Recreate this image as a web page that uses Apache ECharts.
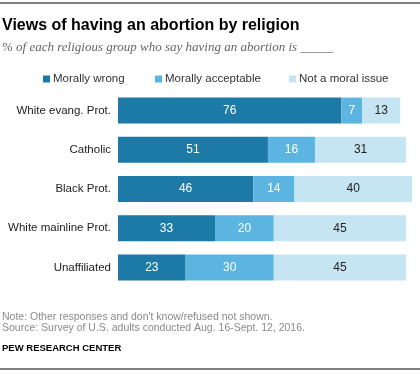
<!DOCTYPE html>
<html>
<head>
<meta charset="utf-8">
<script src="https://cdn.jsdelivr.net/npm/echarts@6/dist/echarts.min.js"></script>
<style>
  html, body { margin: 0; padding: 0; background: #fff; }
  #chart { width: 420px; height: 375px; }
</style>
</head>
<body>
<div id="chart"></div>
<script>
const categories = ['White evang. Prot.', 'Catholic', 'Black Prot.', 'White mainline Prot.', 'Unaffiliated']
const wrong = [76, 51, 46, 33, 23]
const acceptable = [7, 16, 14, 20, 30]
const notMoral = [13, 31, 40, 45, 45]
const seriesNames = ['Morally wrong', 'Morally acceptable', 'Not a moral issue']
const colors = ['#1d79a5', '#5cb5e1', '#c6e5f3']

const chart = echarts.init(document.getElementById('chart'))

const font = 'Arial, "Liberation Sans", sans-serif'

const makeSeries = (name, data, color, labelColor) => ({
  name,
  type: 'bar',
  stack: 'total',
  data,
  barWidth: 26,
  itemStyle: { color },
  label: {
    show: true,
    position: 'inside',
    color: labelColor,
    fontSize: 12,
    fontFamily: font
  },
  emphasis: { disabled: true }
})

const legendAt = (name, left) => ({
  data: [name],
  left,
  top: 73,
  padding: 0,
  icon: 'rect',
  itemWidth: 7,
  itemHeight: 7,
  itemGap: 3,
  textStyle: { fontSize: 11.5, fontFamily: font, color: '#333', padding: [0, 0, 0, -2] }
})

chart.setOption({
  animation: false,
  color: colors,
  title: [
    {
      text: 'Views of having an abortion by religion',
      left: 2,
      top: 18,
      padding: 0,
      textStyle: { fontSize: 16, fontWeight: 'bold', color: '#000', fontFamily: font }
    },
    {
      text: '% of each religious group who say having an abortion is _____',
      left: 2,
      top: 41,
      padding: 0,
      textStyle: { fontSize: 13, fontStyle: 'italic', fontWeight: 'normal', color: '#666', fontFamily: '"Liberation Serif", serif' }
    },
    {
      text: "Note: Other responses and don't know/refused not shown.\nSource: Survey of U.S. adults conducted Aug. 16-Sept. 12, 2016.",
      left: 2,
      top: 311,
      padding: 0,
      textStyle: { fontSize: 10.5, fontWeight: 'normal', color: '#8a8a8a', fontFamily: font, lineHeight: 11.5 }
    },
    {
      text: 'PEW RESEARCH CENTER',
      left: 2,
      top: 343,
      padding: 0,
      textStyle: { fontSize: 9.5, fontWeight: 'bold', color: '#000', fontFamily: font }
    }
  ],
  legend: [
    legendAt(seriesNames[0], 43),
    legendAt(seriesNames[1], 155),
    legendAt(seriesNames[2], 289)
  ],
  graphic: [
    { type: 'line', shape: { x1: 0, y1: 3, x2: 420, y2: 3 }, style: { stroke: '#000', lineWidth: 1 } },
    { type: 'line', shape: { x1: 0, y1: 369, x2: 420, y2: 369 }, style: { stroke: '#000', lineWidth: 1 } }
  ],
  grid: { left: 118, width: 294, top: 91, height: 196 },
  xAxis: {
    type: 'value',
    min: 0,
    max: 100,
    show: false
  },
  yAxis: {
    type: 'category',
    data: categories,
    inverse: true,
    axisLine: { show: false },
    axisTick: { show: false },
    axisLabel: { fontSize: 11.5, color: '#222', fontFamily: font, margin: 7 }
  },
  series: [
    makeSeries(seriesNames[0], wrong, colors[0], '#fff'),
    makeSeries(seriesNames[1], acceptable, colors[1], '#fff'),
    makeSeries(seriesNames[2], notMoral, colors[2], '#222')
  ]
})
</script>
</body>
</html>
